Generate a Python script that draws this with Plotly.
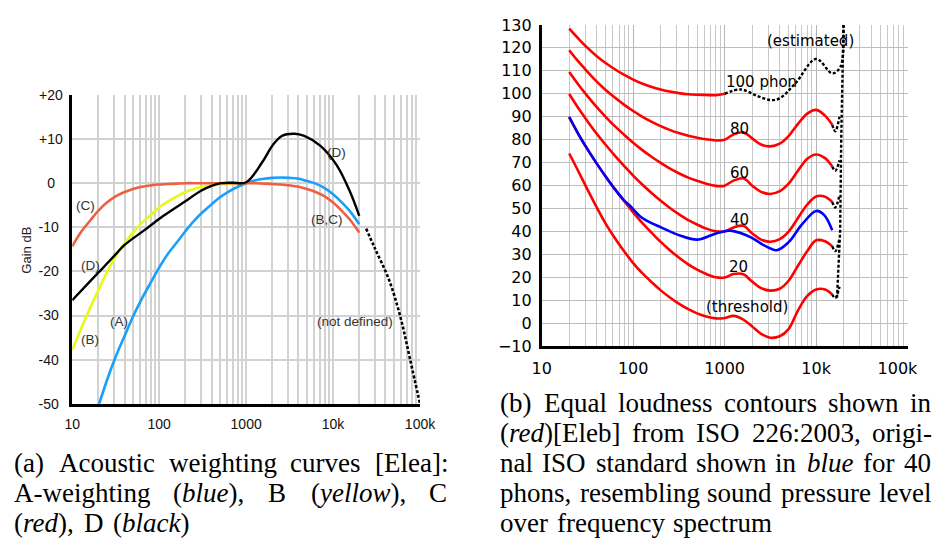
import re
import plotly.graph_objects as go

W, H = 952, 549
def px(x): return x / W
def py(y): return 1 - y / H

# ---------------- (a) acoustic weighting curves ----------------
a_freq = [20, 25, 31.5, 40, 50, 63, 80, 100, 125, 160, 200, 250, 315, 400, 500, 630, 800, 1000,
          1250, 1600, 2000, 2500, 3150, 4000, 5000, 6300, 8000, 10000, 12500, 16000, 20000]
a_db = [-50.5, -44.7, -39.4, -34.6, -30.2, -26.2, -22.5, -19.1, -16.1, -13.4, -10.9, -8.6, -6.6, -4.8,
        -3.2, -1.9, -0.8, 0.0, 0.6, 1.0, 1.2, 1.3, 1.2, 1.0, 0.5, -0.1, -1.1, -2.5, -4.3, -6.6, -9.3]

b_freq = [10, 12.5, 16, 20, 25, 31.5, 40, 50, 63, 80, 100, 125, 160, 200, 250, 315, 400, 500, 630, 800, 1000]
b_db = [-37.8, -33.2, -28.3, -24.2, -20.2, -16.6, -13.6, -11.2, -9.0, -7.2, -5.5, -4.2, -3.0, -2.0,
        -1.3, -0.8, -0.5, -0.3, -0.1, 0.0, 0.0]

c_freq = [10, 12.5, 16, 20, 25, 31.5, 40, 50, 63, 80, 100, 125, 160, 200, 250, 315, 400, 500, 630, 800,
          1000, 1250, 1600, 2000, 2500, 3150, 4000, 5000, 6300, 8000, 10000, 12500, 16000, 20000]
c_db = [-14.3, -11.2, -8.5, -6.2, -4.4, -3.0, -2.0, -1.3, -0.8, -0.5, -0.3, -0.2, -0.1, 0, 0, 0, 0, 0, 0, 0,
        0, 0, -0.1, -0.2, -0.3, -0.5, -0.8, -1.3, -2.0, -3.0, -4.4, -6.2, -8.5, -11.2]

d_freq = [10, 16.6, 22, 30, 40, 67, 112, 186, 310, 400, 515, 700, 1000, 1550, 2000, 2570, 3600, 4660,
          7100, 10900, 15400, 20000]
d_db = [-26.5, -21.9, -19.4, -16.6, -14.0, -10.7, -7.4, -4.5, -1.6, -0.6, 0.0, 0.1, 0.2, 4.9, 8.5, 10.7,
        11.2, 10.7, 8.5, 4.2, -1.6, -7.4]

nd_freq = [24000, 30000, 44000, 60000, 77000, 100000]
nd_db = [-10.3, -14.6, -21.9, -30.6, -40.0, -50.0]

a_xticks = [10, 100, 1000, 10000, 100000]
a_xticktext = ["10", "100", "1000", "10k", "100k"]
a_yticks = [-50, -40, -30, -20, -10, 0, 10, 20]
a_yticktext = ["-50\u00a0", "-40\u00a0", "-30\u00a0", "-20\u00a0", "-10\u00a0", "0\u00a0\u00a0", "+10", "+20"]

# ---------------- (b) equal loudness contours ----------------
iso_freq = [20, 25, 31.5, 40, 50, 63, 80, 100, 125, 160, 200, 250, 315, 400, 500, 630, 800, 1000,
            1250, 1600, 2000, 2500, 3150, 4000, 5000, 6300, 8000, 10000, 12500, 15000]
thr_db = [74.0, 66.5, 58.5, 50.5, 43.5, 37.2, 31.3, 26.3, 22.0, 17.9, 14.4, 11.4, 8.6, 6.2, 4.4, 3.0,
          2.2, 2.4, 3.3, 1.7, -1.3, -4.5, -6.2, -5.6, -2.5, 5.5, 12.0, 14.8, 14.8, 12.6]
p20_db = [89.6, 82.7, 76.0, 69.6, 64.0, 58.6, 53.2, 48.4, 43.9, 39.4, 35.5, 32.0, 28.7, 25.7, 23.4, 21.5,
          20.1, 20.0, 21.5, 21.4, 18.2, 15.4, 14.3, 15.1, 18.6, 25.0, 31.5, 36.2, 35.8, 33.6]
p40_db = [99.9, 93.9, 88.2, 82.6, 77.8, 73.1, 68.5, 64.4, 60.6, 56.7, 53.4, 50.4, 47.6, 45.0, 43.1, 41.3,
          40.1, 40.0, 41.8, 42.5, 39.2, 36.5, 35.6, 36.7, 40.0, 45.8, 51.8, 55.3, 55.2, 52.9]
p60_db = [109.5, 104.2, 99.1, 94.2, 90.0, 85.9, 82.1, 78.7, 75.6, 72.5, 69.9, 67.5, 65.4, 63.5, 62.1, 60.8,
          59.9, 60.0, 62.2, 63.2, 60.0, 57.3, 56.4, 57.6, 60.9, 66.4, 71.7, 73.6, 72.0, 68.3]
p80_db = [119.0, 114.2, 109.7, 105.3, 101.7, 98.4, 95.2, 92.5, 90.1, 87.8, 85.9, 84.3, 82.9, 81.7, 80.9,
          80.2, 79.7, 80.0, 82.3, 83.2, 80.6, 77.9, 77.1, 78.3, 81.6, 86.8, 91.4, 93.0, 90.5, 86.5]
p100_freq = [20, 25, 31.5, 40, 50, 63, 80, 100, 125, 160, 200, 250, 315, 400, 500, 630, 800, 1000]
p100_db = [128.4, 124.2, 120.1, 116.4, 113.4, 110.7, 108.2, 106.2, 104.5, 103.0, 101.9, 101.0, 100.3,
           99.8, 99.6, 99.5, 99.4, 100.0]
p100_est_freq = [1000, 1500, 2270, 3130, 3980, 5960, 10000, 15000, 18400, 19900]
p100_est_db = [100.0, 101.9, 99.1, 97.3, 98.0, 104.7, 115.2, 108.9, 111.7, 130.0]

orig40_freq = [20, 25, 31.5, 40, 50, 63, 80, 91, 126, 205, 330, 500, 700, 870, 1200, 1940, 2700, 3700,
               5000, 7000, 10000, 12200, 15000]
orig40_db = [90.0, 82.7, 76.0, 69.6, 64.0, 58.5, 53.5, 51.5, 45.9, 41.7, 38.2, 36.5, 38.3, 39.6, 40.3,
             37.5, 34.0, 31.9, 35.4, 43.1, 49.0, 47.3, 40.6]

vert_freq = [16900, 18300, 18800, 19900]
vert_db = [11.2, 40.0, 80.0, 130.0]
stub_freq = [15000, 16200, 18000]
stub_db = {
    "thr": [12.6, 11.0, 16.0],
    "20": [33.6, 31.5, 37.0],
    "40": [52.9, 50.5, 56.0],
    "60": [68.3, 66.5, 71.0],
    "80": [86.5, 83.7, 90.0],
}

b_xticks = [10, 100, 1000, 10000, 100000]
b_xticktext = ["10", "100", "1000", "10k", "100k\u00a0\u00a0\u00a0\u00a0"]
b_yticks = list(range(-10, 131, 10))

minor_vals = [m * 10 ** e for e in range(1, 5) for m in range(2, 10)]

fig = go.Figure()

def add(xs, ys, color, width=2.6, dash=None, xa="x", ya="y", shape="spline"):
    line = dict(color=color, width=width, shape=shape)
    if dash:
        line["dash"] = dash
    fig.add_trace(go.Scatter(x=xs, y=ys, mode="lines", line=line, xaxis=xa, yaxis=ya,
                             hoverinfo="skip", showlegend=False))

# (a) traces
add(nd_freq, nd_db, "black", 2.6, "3px,2px")
add(b_freq, b_db, "rgb(230,250,20)")
add(a_freq, a_db, "rgb(25,160,250)")
add(c_freq, c_db, "rgb(238,96,66)")
add(d_freq, d_db, "black", 2.4)

# (b) traces
R = "#ff0000"
for ys in [thr_db, p20_db, p40_db, p60_db, p80_db]:
    add(iso_freq, ys, R, 2.6, None, "x2", "y2")
add(p100_freq, p100_db, R, 2.6, None, "x2", "y2")
add(orig40_freq, orig40_db, "#0000ff", 2.6, None, "x2", "y2")
add(p100_est_freq, p100_est_db, "black", 2.4, "3px,2px", "x2", "y2")
add(vert_freq, vert_db, "black", 2.4, "3px,2px", "x2", "y2", "linear")
for k, ys in stub_db.items():
    add(stub_freq, ys, "black", 2.4, "3px,2px", "x2", "y2")

gridA = "#d2d2d2"
fontA = dict(family="Liberation Sans, Arial", size=14, color="#111")
fontB = dict(family="DejaVu Sans", size=16, color="black")
fig.update_layout(
    width=W, height=H, margin=dict(l=0, r=0, t=0, b=0),
    paper_bgcolor="white", plot_bgcolor="white", showlegend=False,
    xaxis=dict(domain=[px(65), px(428)], type="log", range=[1, 5], anchor="y",
               tickvals=a_xticks, ticktext=a_xticktext, ticks="", ticklabelstandoff=6,
               showgrid=True, gridcolor=gridA, gridwidth=1.5, ticklabeloverflow="allow",
               minor=dict(tickvals=minor_vals, showgrid=True, gridcolor=gridA, gridwidth=1.5),
               showline=True, linecolor="black", linewidth=2.5, zeroline=False, tickfont=fontA),
    yaxis=dict(domain=[py(409), py(89)], range=[-50, 20], anchor="x",
               tickvals=a_yticks, ticktext=a_yticktext, ticks="", ticklabelstandoff=4,
               showgrid=True, gridcolor=gridA, gridwidth=1.5,
               showline=True, linecolor="black", linewidth=2.5, zeroline=False, tickfont=fontA),
    xaxis2=dict(domain=[px(555), px(937)], type="log", range=[1, 5], anchor="y2",
                tickvals=b_xticks, ticktext=b_xticktext, ticks="", ticklabelstandoff=6,
                showgrid=True, gridcolor="#b4b4b4", gridwidth=1.1, ticklabeloverflow="allow",
                minor=dict(tickvals=minor_vals, showgrid=True, gridcolor="#c8c8c8", gridwidth=1.1),
                showline=True, linecolor="black", linewidth=2.5, zeroline=False, tickfont=fontB),
    yaxis2=dict(domain=[py(349.5), py(16.5)], range=[-10, 130], anchor="x2",
                tickvals=b_yticks, ticks="", ticklabelstandoff=4,
                showgrid=True, gridcolor="#bdbdbd", gridwidth=1.1,
                showline=True, linecolor="black", linewidth=2.5, zeroline=False, tickfont=fontB),
)

ann = []
def label(text, x, y, size, family, color="#333", angle=0, xanchor="center"):
    ann.append(dict(text=text, x=px(x), y=py(y), xref="paper", yref="paper", showarrow=False,
                    xanchor=xanchor, yanchor="middle", textangle=angle, borderpad=0, borderwidth=0,
                    font=dict(family=family, size=size, color=color)))

LS = "Liberation Sans, Arial"
label("Gain dB", 17, 250, 13, LS, "#222", -90)
label("(C)", 78.5, 204, 13.5, LS)
label("(D)", 84, 266, 13.5, LS)
label("(B)", 83, 342, 13.5, LS)
label("(A)", 114, 324, 13.5, LS)
label("(D)", 341, 149, 13.5, LS)
label("(B,C)", 331, 218, 13.5, LS)
label("(not defined)", 360.5, 324, 13.5, LS)

DS = "DejaVu Sans"
label("(estimated)", 836, 33.5, 15, DS, "black")
label("100 phon", 784, 76, 15, DS, "black")
label("80", 762, 124.5, 15, DS, "black")
label("60", 762, 170, 15, DS, "black")
label("40", 762, 219, 15, DS, "black")
label("20", 760.5, 267.5, 15, DS, "black")
label("(threshold)", 769, 308.5, 15, DS, "black")

# ---------------- captions (justified word by word, Times metrics) ----------------
TR = {' ': 250, '(': 333, ')': 333, '[': 333, ']': 333, ':': 278, ',': 250, '-': 333, '.': 250,
      'a': 444, 'b': 500, 'c': 444, 'd': 500, 'e': 444, 'f': 333, 'g': 500, 'h': 500, 'i': 278, 'j': 278,
      'k': 500, 'l': 278, 'm': 778, 'n': 500, 'o': 500, 'p': 500, 'q': 500, 'r': 333, 's': 389, 't': 278,
      'u': 500, 'v': 500, 'w': 722, 'x': 500, 'y': 500, 'z': 444,
      'A': 722, 'B': 667, 'C': 667, 'D': 722, 'E': 611, 'I': 333, 'O': 722, 'S': 556}
TI = {'a': 500, 'b': 500, 'c': 444, 'd': 500, 'e': 444, 'k': 444, 'l': 278, 'o': 500, 'r': 389,
      'u': 500, 'w': 667, 'y': 444}

def word_width(word, size):
    w, italic = 0, False
    for tok in re.split(r'(<i>|</i>)', word):
        if tok == '<i>':
            italic = True
        elif tok == '</i>':
            italic = False
        else:
            for ch in tok:
                w += (TI if italic else TR).get(ch, 500)
    return 1.02 * w * size / 1000

CAP_SIZE = 27
SERIF = "Liberation Serif, Times New Roman, serif"
cap_lines = [
    (470, 4, 456, True, ["(a)", "Acoustic", "weighting", "curves", "[Elea]:"]),
    (501, 4, 456, True, ["A-weighting", "(<i>blue</i>),", "B", "(<i>yellow</i>),", "C"]),
    (532, 4, 456, False, ["(<i>red</i>),", "D", "(<i>black</i>)"]),
    (408, 511, 961, True, ["(b)", "Equal", "loudness", "contours", "shown", "in"]),
    (439, 511, 961, True, ["(<i>red</i>)[Eleb]", "from", "ISO", "226:2003,", "origi-"]),
    (470, 511, 961, True, ["nal", "ISO", "standard", "shown", "in", "<i>blue</i>", "for", "40"]),
    (501, 511, 961, True, ["phons,", "resembling", "sound", "pressure", "level"]),
    (532, 511, 961, False, ["over", "frequency", "spectrum"]),
]
for yc, x0, x1, justify, words in cap_lines:
    widths = [word_width(w, CAP_SIZE) for w in words]
    gap = (x1 - x0 - sum(widths)) / (len(words) - 1) if justify else 0.4 * CAP_SIZE
    x = x0
    for w, wd in zip(words, widths):
        label(w, x, yc, CAP_SIZE, SERIF, "black", 0, "left")
        x += wd + gap

fig.update_layout(annotations=ann)
fig.write_html("out.html", config={"displayModeBar": False},
               post_script="document.body.style.margin='0';document.documentElement.style.overflow='hidden';")
